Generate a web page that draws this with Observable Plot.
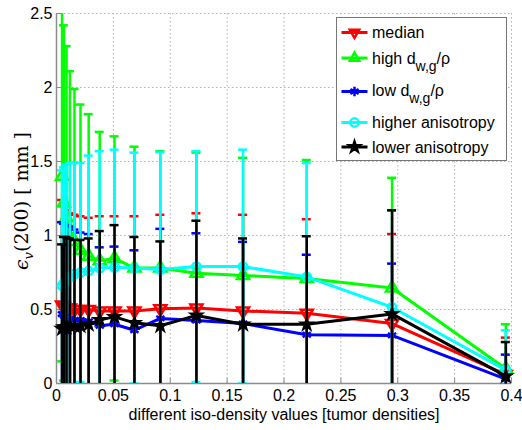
<!DOCTYPE html>
<html><head><meta charset="utf-8">
<script src="https://cdn.jsdelivr.net/npm/d3@7"></script>
<script src="https://cdn.jsdelivr.net/npm/@observablehq/plot@0.6"></script>
<style>
body{margin:0;background:#fff;}
#chart{position:relative;width:522px;height:430px;}
</style>
</head><body><div id="chart"></div>
<script>
// iso-density values (x)
const isoDensity = [0.0049, 0.0065, 0.0088, 0.0118, 0.0158, 0.0211, 0.0283, 0.038, 0.051, 0.0685, 0.0913, 0.123, 0.164, 0.220, 0.295, 0.395];

// series values and upper error-bar ends
const medianVals   = [0.53, 0.52, 0.51, 0.51, 0.50, 0.50, 0.50, 0.49, 0.49, 0.49, 0.505, 0.51, 0.49, 0.475, 0.405, 0.06];
const medianUpper  = [1.24, 1.20, 1.17, 1.15, 1.14, 1.13, 1.12, 1.13, 1.13, 1.13, 1.14, 1.15, 1.14, 1.11, 1.01, 0.31];

const highVals     = [1.40, 1.22, 1.12, 1.04, 0.96, 0.90, 0.86, 0.83, 0.845, 0.78, 0.78, 0.745, 0.73, 0.71, 0.645, 0.10];
const highUpper    = [2.65, 2.42, 2.28, 2.11, 1.99, 1.885, 1.82, 1.70, 1.67, 1.60, 1.57, 1.56, 1.525, 1.51, 1.39, 0.40];

const lowVals      = [0.47, 0.46, 0.45, 0.44, 0.43, 0.43, 0.42, 0.39, 0.40, 0.36, 0.44, 0.425, 0.405, 0.33, 0.325, 0.03];
const lowUpper     = [1.09, 1.08, 1.07, 1.06, 1.04, 1.02, 1.01, 0.92, 0.925, 0.90, 1.045, 1.015, 0.957, 0.87, 0.81, 0.195];

const higherVals   = [0.66, 0.68, 0.70, 0.72, 0.74, 0.75, 0.76, 0.78, 0.785, 0.78, 0.77, 0.79, 0.79, 0.72, 0.515, 0.09];
const higherUpper  = [1.44, 1.46, 1.48, 1.49, 1.49, 1.49, 1.54, 1.57, 1.58, 1.56, 1.565, 1.57, 1.58, 1.49, 1.17, 0.36];

const lowerVals    = [0.37, 0.38, 0.38, 0.39, 0.39, 0.39, 0.40, 0.43, 0.45, 0.41, 0.39, 0.46, 0.40, 0.40, 0.47, 0.05];
const lowerUpper   = [0.94, 0.99, 0.99, 0.98, 0.97, 0.97, 0.98, 1.03, 1.07, 0.99, 0.96, 1.10, 0.98, 0.995, 1.17, 0.28];

const xTicks = [0, 0.05, 0.1, 0.15, 0.2, 0.25, 0.3, 0.35, 0.4];
const yTicks = [0, 0.5, 1, 1.5, 2, 2.5];
const xLabel = "different iso-density values [tumor densities]";

const seriesDefs = [
  {name: "median", vals: medianVals, upper: medianUpper, color: "#ff0000", symbol: "triangle", rotate: 180, fill: "none", r: 4.5},
  {name: "high", vals: highVals, upper: highUpper, color: "#00ff00", symbol: "triangle", rotate: 0, fill: "none", r: 4.5},
  {name: "low", vals: lowVals, upper: lowUpper, color: "#0000ff", symbol: "asterisk", rotate: 0, fill: "none", r: 4.5},
  {name: "higher anisotropy", vals: higherVals, upper: higherUpper, color: "#00ffff", symbol: "circle", rotate: 0, fill: "none", r: 4.2},
  {name: "lower anisotropy", vals: lowerVals, upper: lowerUpper, color: "#000000", symbol: "star", rotate: 0, fill: "#000000", r: 3.2}
];

const W = 522, H = 430, mL = 56, mR = 11, mT = 13, mB = 47;
const FONT = "'Liberation Sans', Arial, Helvetica, sans-serif";

const seriesMarks = seriesDefs.flatMap(s => {
  const rows = isoDensity.map((x, i) => ({x, y: s.vals[i], hi: s.upper[i], lo: 2 * s.vals[i] - s.upper[i]}));
  return [
    Plot.ruleX(rows, {x: "x", y1: "lo", y2: "hi", stroke: s.color, strokeWidth: 2.5, clip: true}),
    Plot.ruleY(rows, {x1: "x", x2: "x", y: "hi", insetLeft: -4.5, insetRight: -4.5, stroke: s.color, strokeWidth: 2.5, clip: true}),
    Plot.ruleY(rows, {x1: "x", x2: "x", y: "lo", insetLeft: -4.5, insetRight: -4.5, stroke: s.color, strokeWidth: 2.5, clip: true}),
    Plot.line(rows, {x: "x", y: "y", stroke: s.color, strokeWidth: 3}),
    Plot.dot(rows, {x: "x", y: "y", symbol: () => s.symbol, rotate: s.rotate, r: s.r, stroke: s.color, fill: s.fill, strokeWidth: 2.5})
  ];
});

const chart = Plot.plot({
  width: W, height: H,
  marginLeft: mL, marginRight: mR, marginTop: mT, marginBottom: mB,
  style: {fontFamily: FONT, fontSize: "16px", color: "#000", background: "#fff"},
  x: {domain: [0, 0.4]},
  y: {domain: [0, 2.5]},
  symbol: {type: "identity"},
  marks: [
    Plot.gridX(xTicks.slice(1), {stroke: "#b0b0b0", strokeOpacity: 1, strokeDasharray: "1.5,2.5", strokeWidth: 1}),
    Plot.gridY(yTicks.slice(1), {stroke: "#b0b0b0", strokeOpacity: 1, strokeDasharray: "1.5,2.5", strokeWidth: 1}),
    Plot.ruleX([0], {stroke: "#8c8c8c", strokeWidth: 1.5}),
    Plot.ruleY([0], {stroke: "#8c8c8c", strokeWidth: 1.5}),
    Plot.tickY(yTicks, {y: d => d, insetRight: W - mL - mR - 5, stroke: "#8c8c8c"}),
    Plot.tickX(xTicks, {x: d => d, insetTop: H - mT - mB - 5, stroke: "#8c8c8c"}),
    Plot.axisX(xTicks, {tickSize: 0, tickPadding: 6, label: null, tickFormat: d => String(d), fill: "#000"}),
    Plot.axisY(yTicks, {tickSize: 0, tickPadding: 4, label: null, tickFormat: d => String(d), fill: "#000"}),
    ...seriesMarks,
    Plot.text([xLabel], {frameAnchor: "bottom", dy: 36, text: d => d, fontSize: 16, fill: "#000"})
  ]
});
document.getElementById("chart").appendChild(chart);

// y-axis label (LaTeX-like)
const svg = d3.select(chart);
const yl = svg.append("text")
  .attr("transform", `translate(28,${(mT + H - mB) / 2 + 3}) rotate(-90)`)
  .attr("text-anchor", "middle")
  .style("font-family", "'DejaVu Serif', 'Liberation Serif', serif")
  .style("font-size", "19px")
  .attr("fill", "#000");
yl.append("tspan").attr("font-style", "italic").text("ϵ");
yl.append("tspan").attr("font-style", "italic").attr("font-size", "13px").attr("dy", 5).text("v");
yl.append("tspan").attr("dy", -5).text("(200) [ mm ]");

// legend
const lg = svg.append("g").style("font-family", FONT).style("font-size", "16px");
lg.append("rect").attr("x", 336.5).attr("y", 17.5).attr("width", 170).attr("height", 143)
  .attr("fill", "#fff").attr("stroke", "#777").attr("stroke-width", 1);
const legendRows = [
  {cy: 32.5, base: 38, parts: [["median"]]},
  {cy: 58, base: 63.5, parts: [["high d"], ["w,g", "sub"], ["/ρ", "back"]]},
  {cy: 91.5, base: 95.5, parts: [["low d"], ["w,g", "sub"], ["/ρ", "back"]]},
  {cy: 122.5, base: 128, parts: [["higher anisotropy"]]},
  {cy: 147, base: 152.5, parts: [["lower anisotropy"]]}
];
const d3sym = {triangle: d3.symbolTriangle2, asterisk: d3.symbolAsterisk, circle: d3.symbolCircle, star: d3.symbolStar};
seriesDefs.forEach((s, i) => {
  const r = legendRows[i];
  lg.append("line").attr("x1", 341.5).attr("x2", 367.5).attr("y1", r.cy).attr("y2", r.cy)
    .attr("stroke", s.color).attr("stroke-width", 3);
  lg.append("path").attr("d", d3.symbol(d3sym[s.symbol], Math.PI * s.r * s.r)())
    .attr("transform", `translate(354.5,${r.cy}) rotate(${s.rotate})`)
    .attr("stroke", s.color).attr("stroke-width", 2.5).attr("fill", s.fill);
  const t = lg.append("text").attr("x", 372).attr("y", r.base).attr("fill", "#000")
    .attr("text-anchor", "start");
  r.parts.forEach(([txt, kind]) => {
    const sp = t.append("tspan").text(txt);
    if (kind === "sub") sp.attr("dy", 7).attr("font-size", "14px");
    if (kind === "back") sp.attr("dy", -7);
  });
});
</script>
</body></html>
